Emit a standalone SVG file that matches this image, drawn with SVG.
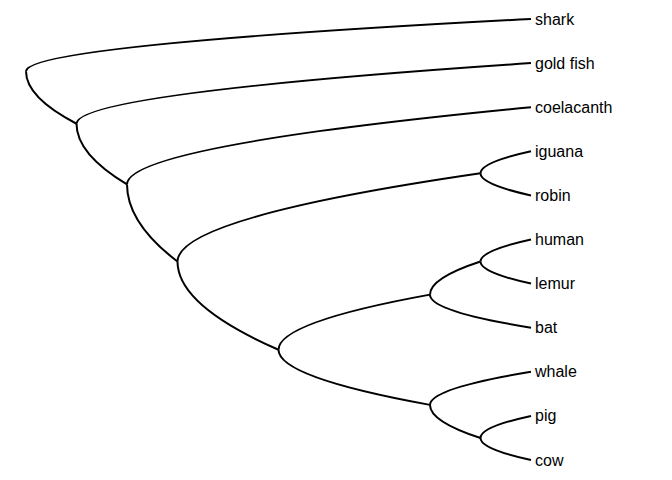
<svg xmlns="http://www.w3.org/2000/svg" width="672" height="480" viewBox="0 0 672 480">
<style>
.e{fill:none;stroke:#000;stroke-width:2;stroke-linecap:butt}
.t{font-family:"Liberation Sans",Arial,sans-serif;font-size:16px;fill:#000}
</style>
<rect width="672" height="480" fill="#fff"/>
<g id="connectors">
<path class="e" d="M26 71.37 Q26 45.19 531 19"/>
<path class="e" d="M26 71.37 Q26 97.55 76.5 123.74"/>
<path class="e" d="M76.5 123.74 Q76.5 93.42 531 63.1"/>
<path class="e" d="M76.5 123.74 Q76.5 154.06 127 184.38"/>
<path class="e" d="M127 184.38 Q127 145.79 531 107.2"/>
<path class="e" d="M127 184.38 Q127 222.97 177.5 261.55"/>
<path class="e" d="M177.5 261.55 Q177.5 217.45 480.5 173.35"/>
<path class="e" d="M177.5 261.55 Q177.5 305.65 278.5 349.75"/>
<path class="e" d="M480.5 173.35 Q480.5 162.33 531 151.3"/>
<path class="e" d="M480.5 173.35 Q480.5 184.38 531 195.4"/>
<path class="e" d="M278.5 349.75 Q278.5 322.19 430 294.63"/>
<path class="e" d="M278.5 349.75 Q278.5 377.31 430 404.88"/>
<path class="e" d="M430 294.63 Q430 278.09 480.5 261.55"/>
<path class="e" d="M430 294.63 Q430 311.17 531 327.7"/>
<path class="e" d="M480.5 261.55 Q480.5 250.53 531 239.5"/>
<path class="e" d="M480.5 261.55 Q480.5 272.58 531 283.6"/>
<path class="e" d="M430 404.88 Q430 388.34 531 371.8"/>
<path class="e" d="M430 404.88 Q430 421.41 480.5 437.95"/>
<path class="e" d="M480.5 437.95 Q480.5 426.93 531 415.9"/>
<path class="e" d="M480.5 437.95 Q480.5 448.98 531 460"/>
</g>
<g id="shark"><text class="t" x="535" y="24.5">shark</text></g>
<g id="goldfish"><text class="t" x="535" y="68.6">gold fish</text></g>
<g id="coelacanth"><text class="t" x="535" y="112.7">coelacanth</text></g>
<g id="iguana"><text class="t" x="535" y="156.8">iguana</text></g>
<g id="robin"><text class="t" x="535" y="200.9">robin</text></g>
<g id="human"><text class="t" x="535" y="245">human</text></g>
<g id="lemur"><text class="t" x="535" y="289.1">lemur</text></g>
<g id="bat"><text class="t" x="535" y="333.2">bat</text></g>
<g id="whale"><text class="t" x="535" y="377.3">whale</text></g>
<g id="pig"><text class="t" x="535" y="421.4">pig</text></g>
<g id="cow"><text class="t" x="535" y="465.5">cow</text></g>
</svg>
